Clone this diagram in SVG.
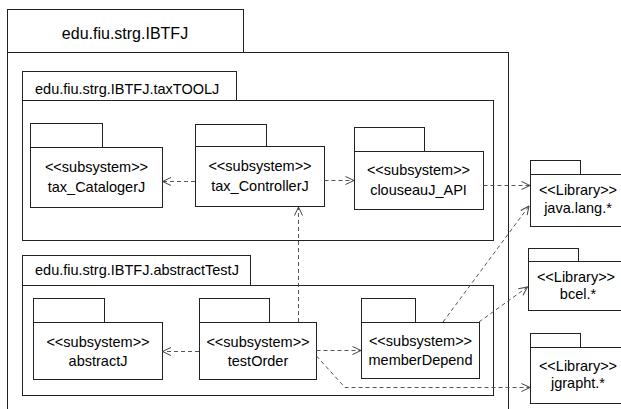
<svg xmlns="http://www.w3.org/2000/svg" width="621" height="409" viewBox="0 0 621 409">
<defs>
<style>
.box{fill:#fff;stroke:#222;stroke-width:1}
.t{font-family:"Liberation Sans",Arial,sans-serif;font-size:14.5px;fill:#000;text-anchor:middle}
.title{font-family:"Liberation Sans",Arial,sans-serif;font-size:14.5px;fill:#000}
.dep{fill:none;stroke:#555;stroke-width:1;stroke-dasharray:4,3;marker-end:url(#open)}
</style>
<marker id="open" viewBox="0 0 10 10" refX="9.5" refY="5" markerWidth="10" markerHeight="10" markerUnits="userSpaceOnUse" orient="auto">
<path d="M1,1 L9.5,5 L1,9" fill="none" stroke="#444" stroke-width="1"/>
</marker>
</defs>
<rect width="621" height="409" fill="#fff"/>
<g id="pkg-IBTFJ">
<rect class="box" x="7.5" y="9.5" width="236" height="43"/>
<rect class="box" x="7.5" y="52.5" width="501" height="370"/>
<text x="125" y="39" style="font-family:'Liberation Sans',Arial,sans-serif;font-size:16px;text-anchor:middle">edu.fiu.strg.IBTFJ</text>
</g>
<g id="pkg-taxTOOLJ">
<rect class="box" x="22.5" y="71.5" width="214" height="29"/>
<rect class="box" x="22.5" y="100.5" width="471" height="140"/>
<text class="title" x="35" y="93.5">edu.fiu.strg.IBTFJ.taxTOOLJ</text>
</g>
<g id="pkg-abstractTestJ">
<rect class="box" x="22.5" y="255.5" width="228" height="30"/>
<rect class="box" x="22.5" y="285.5" width="471" height="110"/>
<text class="title" x="35" y="275">edu.fiu.strg.IBTFJ.abstractTestJ</text>
</g>
<g id="tax_CatalogerJ">
<rect class="box" x="30.5" y="123.5" width="72" height="24"/>
<rect class="box" x="30.5" y="147.5" width="132" height="60"/>
<text class="t" x="96.5" y="172">&lt;&lt;subsystem&gt;&gt;</text>
<text class="t" x="96.5" y="192">tax_CatalogerJ</text>
</g>
<g id="tax_ControllerJ">
<rect class="box" x="195.5" y="124.5" width="71" height="22"/>
<rect class="box" x="195.5" y="146.5" width="129" height="60"/>
<text class="t" x="260" y="171">&lt;&lt;subsystem&gt;&gt;</text>
<text class="t" x="260" y="191">tax_ControllerJ</text>
</g>
<g id="clouseauJ_API">
<rect class="box" x="354.5" y="127.5" width="70" height="24"/>
<rect class="box" x="354.5" y="151.5" width="129" height="58"/>
<text class="t" x="418.5" y="175">&lt;&lt;subsystem&gt;&gt;</text>
<text class="t" x="418.5" y="195">clouseauJ_API</text>
</g>
<g id="abstractJ">
<rect class="box" x="33.5" y="298.5" width="71" height="24"/>
<rect class="box" x="33.5" y="322.5" width="129" height="57"/>
<text class="t" x="98" y="347">&lt;&lt;subsystem&gt;&gt;</text>
<text class="t" x="98" y="366">abstractJ</text>
</g>
<g id="testOrder">
<rect class="box" x="199.5" y="298.5" width="70" height="24"/>
<rect class="box" x="199.5" y="322.5" width="117" height="57"/>
<text class="t" x="258" y="347">&lt;&lt;subsystem&gt;&gt;</text>
<text class="t" x="258" y="366">testOrder</text>
</g>
<g id="memberDepend">
<rect class="box" x="361.5" y="298.5" width="54" height="24"/>
<rect class="box" x="361.5" y="322.5" width="118" height="56"/>
<text class="t" x="420.5" y="346">&lt;&lt;subsystem&gt;&gt;</text>
<text class="t" x="420.5" y="365">memberDepend</text>
</g>
<g id="java.lang">
<rect class="box" x="530.5" y="160.5" width="50" height="14"/>
<rect class="box" x="530.5" y="174.5" width="96" height="52"/>
<text class="t" x="578" y="195">&lt;&lt;Library&gt;&gt;</text>
<text class="t" x="578" y="213">java.lang.*</text>
</g>
<g id="bcel">
<rect class="box" x="528.5" y="248.5" width="50" height="13"/>
<rect class="box" x="528.5" y="261.5" width="96" height="49"/>
<text class="t" x="576" y="282">&lt;&lt;Library&gt;&gt;</text>
<text class="t" x="578" y="299">bcel.*</text>
</g>
<g id="jgrapht">
<rect class="box" x="530.5" y="333.5" width="50" height="14"/>
<rect class="box" x="530.5" y="347.5" width="96" height="56"/>
<text class="t" x="578" y="371">&lt;&lt;Library&gt;&gt;</text>
<text class="t" x="578" y="388">jgrapht.*</text>
</g>
<g id="connectors">
<path class="dep" d="M195,181.5 L162.5,181.5"/>
<path class="dep" d="M324.5,180.5 L354,180.5"/>
<path class="dep" d="M483.5,185.5 L530,185.5"/>
<path class="dep" d="M298.5,322 L298.5,207"/>
<path class="dep" d="M199,351.5 L162.5,351.5"/>
<path class="dep" d="M316.5,350.5 L361,350.5"/>
<path class="dep" d="M316.5,356 L345,387.5 L530,387.5"/>
<path class="dep" d="M443,322 L529,206"/>
<path class="dep" d="M479,322 L527.5,287"/>
</g>
</svg>
